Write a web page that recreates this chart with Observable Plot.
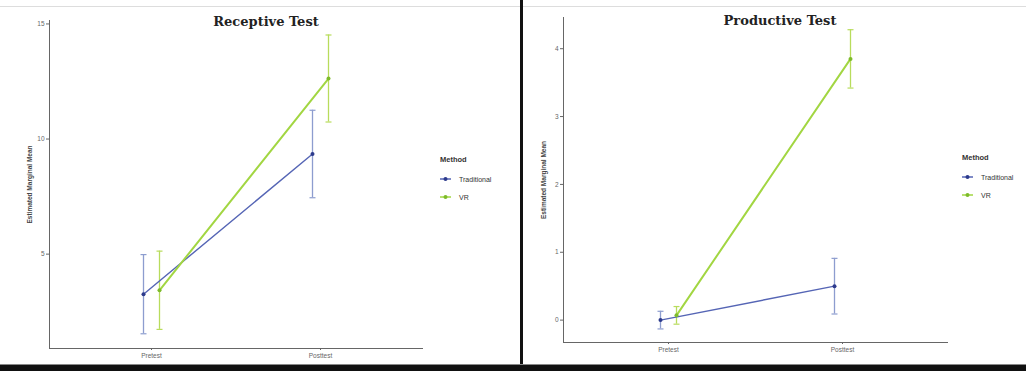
<!DOCTYPE html>
<html><head><meta charset="utf-8">
<script src="https://cdn.jsdelivr.net/npm/d3@7"></script>
<script src="https://cdn.jsdelivr.net/npm/@observablehq/plot@0.6"></script>
<style>
body{margin:0;background:#fff;font-family:"Liberation Sans",Arial,sans-serif;}
#wrap{position:relative;width:1026px;height:371px;overflow:hidden;background:#fff;}
.panel{position:absolute;top:0;}
.title{position:absolute;font-family:"DejaVu Serif",serif;font-weight:bold;font-size:13px;color:#222;white-space:nowrap;transform:translateX(-50%);}
.legend{position:absolute;font-size:7px;color:#333;}
.legend .lt{font-weight:bold;margin-bottom:6px;font-size:7.5px;}
.legend .it{display:flex;align-items:center;height:18px;}
.legend svg{margin-right:8px;}
#topline{position:absolute;left:0;top:6px;width:1026px;height:1px;background:#ddd;}
#divider{position:absolute;left:520px;top:0;width:3px;height:371px;background:#111;}
#bottom{position:absolute;left:0;top:364px;width:1026px;height:7px;background:#111;border-top:1px solid #888;}
</style>
</head><body>
<div id="wrap">
<div id="topline"></div>
</div>
<script>
const categories = ["Pretest", "Posttest"];
const methods = ["Traditional", "VR"];
const colorsLine = ["#5565b5", "#a2d642"];
const colorsDot = ["#2c3a8c", "#7dbb2a"];
const colorsBar = ["#8d9dcf", "#b8dc5c"];

const receptiveTitle = "Receptive Test";
const receptiveTraditional = [3.26, 9.35];
const receptiveTraditionalCI = [1.72, 1.9];
const receptiveVR = [3.43, 12.63];
const receptiveVRCI = [1.7, 1.89];
const receptiveTicks = [5, 10, 15];

const productiveTitle = "Productive Test";
const productiveTraditional = [0.0, 0.5];
const productiveTraditionalCI = [0.13, 0.41];
const productiveVR = [0.07, 3.85];
const productiveVRCI = [0.13, 0.43];
const productiveTicks = [0, 1, 2, 3, 4];

const yLabel = "Estimated Marginal Mean";
const legendTitle = "Method";

function rows(trad, tradCI, vr, vrCI) {
  const out = [];
  categories.forEach((c, i) => {
    out.push({time: c, method: "Traditional", mean: trad[i], lo: trad[i] - tradCI[i], hi: trad[i] + tradCI[i]});
    out.push({time: c, method: "VR", mean: vr[i], lo: vr[i] - vrCI[i], hi: vr[i] + vrCI[i]});
  });
  return out;
}

const hline = {draw(ctx, size) { const r = Math.sqrt(size / Math.PI); ctx.moveTo(-r, 0); ctx.lineTo(r, 0); }};

function panel(data, ticks, domain, left, width, marginRight, marginTop, marginBottom) {
  const marks = [];
  methods.forEach((m, k) => {
    const d = data.filter(r => r.method === m);
    const dx = k === 0 ? -8 : 8;
    marks.push(Plot.ruleX(d, {x: "time", y1: "lo", y2: "hi", stroke: colorsBar[k], strokeWidth: 1.3, dx}));
    marks.push(Plot.dot(d, {x: "time", y: "lo", symbol: hline, r: 3, stroke: colorsBar[k], strokeWidth: 1.2, dx}));
    marks.push(Plot.dot(d, {x: "time", y: "hi", symbol: hline, r: 3, stroke: colorsBar[k], strokeWidth: 1.2, dx}));
  });
  methods.forEach((m, k) => {
    const d = data.filter(r => r.method === m);
    const dx = k === 0 ? -8 : 8;
    marks.push(Plot.line(d, {x: "time", y: "mean", stroke: colorsLine[k], strokeWidth: k === 0 ? 1.4 : 2, dx}));
    marks.push(Plot.dot(d, {x: "time", y: "mean", fill: colorsDot[k], r: 2, dx}));
  });
  const svg = Plot.plot({
    width, height: 371,
    marginLeft: 49, marginRight, marginTop, marginBottom,
    style: {fontSize: "6.5px", color: "#666", fontFamily: "Liberation Sans, Arial, sans-serif", background: "transparent"},
    x: {type: "point", domain: categories, padding: 0.6, line: true, label: null, tickSize: 2, tickPadding: 3},
    y: {domain, ticks, tickFormat: d3.format("d"), line: true, label: yLabel, labelArrow: "none", labelAnchor: "center", labelOffset: 22, tickSize: 3, tickPadding: 2},
    marks
  });
  svg.classList.add("panel");
  svg.style.left = left + "px";
  svg.querySelectorAll("[aria-label='y-axis label']").forEach(g => {
    g.setAttribute("font-weight", "bold"); g.setAttribute("fill", "#444");
    g.querySelectorAll("text").forEach(t => { t.textContent = yLabel; });
  });
  return svg;
}

function legend(left, top) {
  const div = document.createElement("div");
  div.className = "legend";
  div.style.left = left + "px";
  div.style.top = top + "px";
  let html = `<div class="lt">${legendTitle}</div>`;
  methods.forEach((m, k) => {
    html += `<div class="it"><svg width="11" height="6"><line x1="0" x2="11" y1="3" y2="3" stroke="${colorsLine[k]}" stroke-width="1.5"/><circle cx="5.5" cy="3" r="2" fill="${colorsDot[k]}"/></svg>${m}</div>`;
  });
  div.innerHTML = html;
  return div;
}

function title(text, x, y) {
  const d = document.createElement("div");
  d.className = "title";
  d.textContent = text;
  d.style.left = x + "px";
  d.style.top = y + "px";
  return d;
}

const wrap = document.getElementById("wrap");
const rec = rows(receptiveTraditional, receptiveTraditionalCI, receptiveVR, receptiveVRCI);
const pro = rows(productiveTraditional, productiveTraditionalCI, productiveVR, productiveVRCI);

wrap.appendChild(panel(rec, receptiveTicks, [0.9, 15.15], 0, 520, 98, 20, 23));
wrap.appendChild(panel(pro, productiveTicks, [-0.33, 4.46], 514, 512, 512 - 947 + 514, 17, 29));
wrap.appendChild(title(receptiveTitle, 266, 14));
wrap.appendChild(title(productiveTitle, 780, 13));
wrap.appendChild(legend(440, 155));
wrap.appendChild(legend(962, 153));
const dv = document.createElement("div"); dv.id = "divider"; wrap.appendChild(dv);
const bt = document.createElement("div"); bt.id = "bottom"; wrap.appendChild(bt);
</script>
</body></html>
